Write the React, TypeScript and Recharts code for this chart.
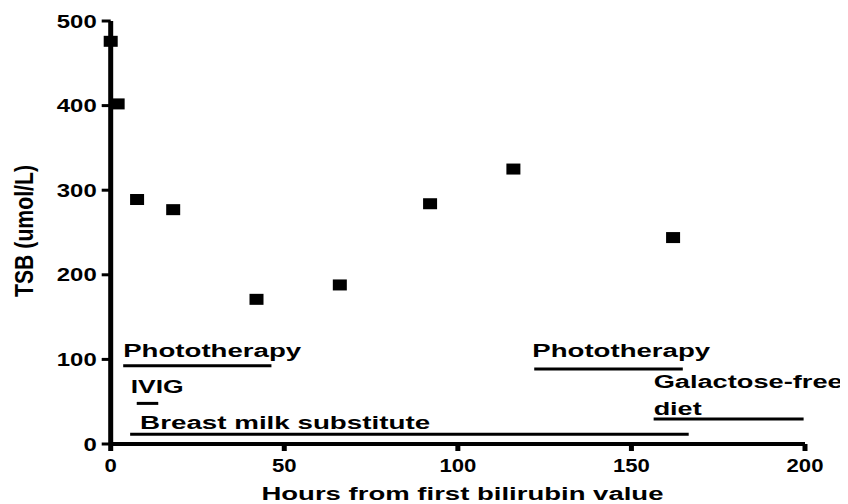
import React from 'react';
import { ScatterChart, Scatter, XAxis, YAxis, ReferenceLine } from 'recharts';

// TSB measurements
const hours = [0, 2, 7.6, 18, 42, 66, 92, 116, 162];
const tsb = [476, 402, 289, 277, 171, 188, 284, 325, 244];

// treatment periods
const treatmentNames = ['Phototherapy', 'IVIG', 'Breast milk substitute', 'Phototherapy', 'Galactose-free diet'];
const treatmentStart = [3.6, 7.5, 5.6, 122, 156.4];
const treatmentEnd = [46.3, 13.7, 166.5, 164.8, 199.6];
const treatmentLevel = [92.5, 48, 11.5, 88.6, 29.5];

const xTicks = [0, 50, 100, 150, 200];
const yTicks = [0, 100, 200, 300, 400, 500];

const FONT = '"Liberation Sans", Arial, Helvetica, sans-serif';

// label placement relative to the start of each treatment line
const labelStyle = [
  { dx: 0, lines: [{ dy: -8.7, w: 178 }] },
  { dx: -6, lines: [{ dy: -10, w: 53 }] },
  { dx: 10, lines: [{ dy: -5.3, w: 290 }] },
  { dx: -2, lines: [{ dy: -12.3, w: 178 }] },
  { dx: 0, lines: [{ dy: -30.7, w: 189 }, { dy: -4, w: 48 }] },
];
const labelLines = (name: string) =>
  name === 'Galactose-free diet' ? ['Galactose-free', 'diet'] : [name];

const data = hours.map((h, i) => ({ x: h, y: tsb[i] }));

const XTick = ({ x, y, payload }: any) => {
  const s = String(payload.value);
  return (
    <text x={x} y={y + 19} textAnchor="middle" fontFamily={FONT} fontWeight="bold" fontSize={18}
      fill="#000" textLength={12.3 * s.length} lengthAdjust="spacingAndGlyphs">
      {s}
    </text>
  );
};

const YTick = ({ x, y, payload }: any) => {
  const s = String(payload.value);
  return (
    <text x={x - 3} y={y + 6.5} textAnchor="end" fontFamily={FONT} fontWeight="bold" fontSize={18}
      fill="#000" textLength={13.3 * s.length} lengthAdjust="spacingAndGlyphs">
      {s}
    </text>
  );
};

const Square = (p: any) => (
  <rect x={p.cx - 7} y={p.cy - 5.5} width={14} height={11} fill="#000" />
);

export default function App() {
  return (
    <ScatterChart width={840} height={496} margin={{ top: 13, right: 43, bottom: 0, left: 0 }}>
      <XAxis
        type="number"
        dataKey="x"
        domain={[0, 200]}
        ticks={xTicks}
        height={60}
        tickSize={7}
        axisLine={{ stroke: '#000', strokeWidth: 4 }}
        tickLine={{ stroke: '#000', strokeWidth: 5 }}
        tick={<XTick />}
        label={(props: any) => {
          const vb = props.viewBox;
          return (
            <text x={vb.x + vb.width / 2 + 4.6} y={vb.y + 56} textAnchor="middle" fontFamily={FONT}
              fontWeight="bold" fontSize={18} fill="#000" textLength={402} lengthAdjust="spacingAndGlyphs">
              Hours from first bilirubin value
            </text>
          );
        }}
      />
      <YAxis
        type="number"
        dataKey="y"
        domain={[0, 500]}
        ticks={yTicks}
        width={102.7}
        tickSize={9}
        axisLine={{ stroke: '#000', strokeWidth: 5 }}
        tickLine={{ stroke: '#000', strokeWidth: 3 }}
        tick={<YTick />}
        label={(props: any) => {
          const vb = props.viewBox;
          const cy = vb.y + vb.height / 2 - 1.5;
          return (
            <text transform={`translate(25, ${cy}) scale(1.38, 1) rotate(-90)`} x={0} y={0}
              textAnchor="middle" fontFamily={FONT} fontWeight="bold" fontSize={18} fill="#000"
              textLength={132} lengthAdjust="spacingAndGlyphs">
              TSB (umol/L)
            </text>
          );
        }}
      />
      {treatmentNames.map((name, i) => (
        <ReferenceLine
          key={i}
          segment={[
            { x: treatmentStart[i], y: treatmentLevel[i] },
            { x: treatmentEnd[i], y: treatmentLevel[i] },
          ]}
          stroke="#000"
          strokeWidth={3}
          label={(props: any) => {
            const vb = props.viewBox;
            const st = labelStyle[i];
            return (
              <g>
                {labelLines(name).map((t, k) => (
                  <text key={k} x={vb.x + st.dx} y={vb.y + st.lines[k].dy} fontFamily={FONT}
                    fontWeight="bold" fontSize={18} fill="#000" textLength={st.lines[k].w}
                    lengthAdjust="spacingAndGlyphs">
                    {t}
                  </text>
                ))}
              </g>
            );
          }}
        />
      ))}
      <Scatter data={data} shape={Square} isAnimationActive={false} />
    </ScatterChart>
  );
}
